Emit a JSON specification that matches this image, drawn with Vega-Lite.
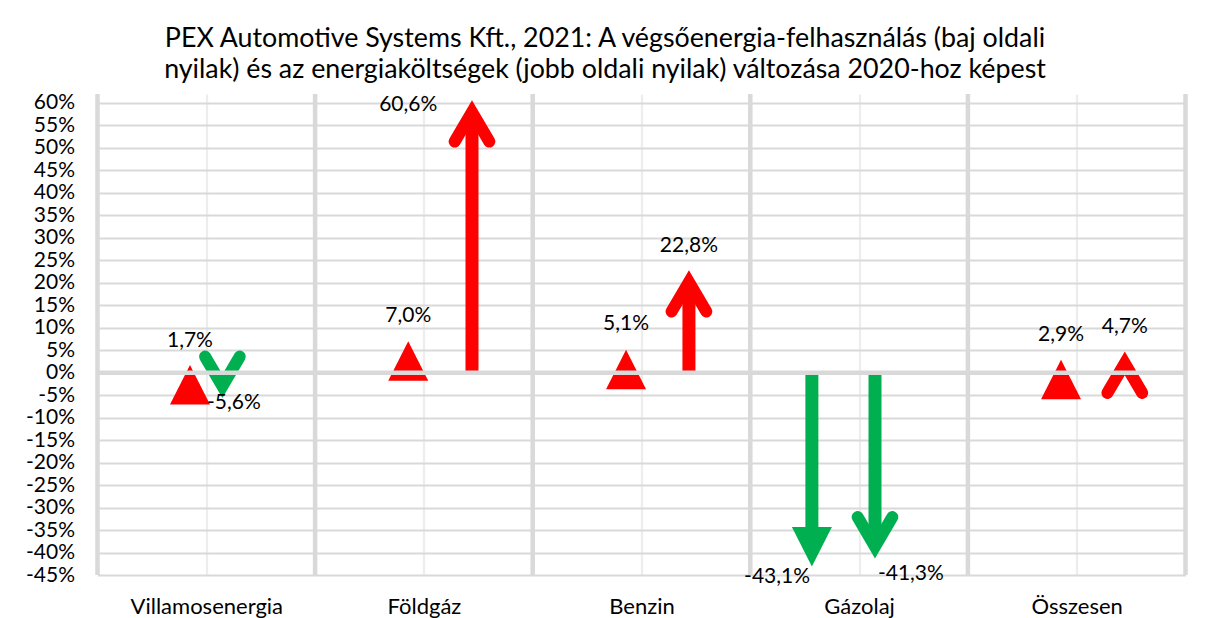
{
  "$schema": "https://vega.github.io/schema/vega-lite/v6.json",
  "width": 1088,
  "height": 481,
  "autosize": {"type": "none"},
  "padding": {"left": 97.5, "top": 94, "right": 24.5, "bottom": 43},
  "background": "white",
  "config": {"view": {"stroke": null}, "font": "Lato", "text": {"font": "Lato"}},
  "title": {
    "text": ["PEX Automotive Systems Kft., 2021: A végsőenergia-felhasználás (baj oldali", "nyilak) és az energiaköltségek (jobb oldali nyilak) változása 2020-hoz képest"],
    "fontSize": 26.8,
    "fontWeight": "normal",
    "font": "Lato",
    "color": "#000000",
    "anchor": "middle",
    "frame": "group",
    "dx": -36.5,
    "offset": 4,
    "lineHeight": 31
  },
  "datasets": {
    "arrows": [
      {"cat": "Villamosenergia", "side": "left", "x": 0.425, "v": 1.7, "lx": 0.425, "ly": 7.0},
      {"cat": "Villamosenergia", "side": "right", "x": 0.574, "v": -5.6, "lx": 0.627, "ly": -6.8},
      {"cat": "Földgáz", "side": "left", "x": 1.428, "v": 7.0, "lx": 1.428, "ly": 12.6},
      {"cat": "Földgáz", "side": "right", "x": 1.721, "v": 60.6, "lx": 1.428, "ly": 59.5},
      {"cat": "Benzin", "side": "left", "x": 2.429, "v": 5.1, "lx": 2.429, "ly": 10.8},
      {"cat": "Benzin", "side": "right", "x": 2.718, "v": 22.8, "lx": 2.718, "ly": 28.2},
      {"cat": "Gázolaj", "side": "left", "x": 3.283, "v": -43.1, "lx": 3.123, "ly": -45.45},
      {"cat": "Gázolaj", "side": "right", "x": 3.573, "v": -41.3, "lx": 3.738, "ly": -44.8},
      {"cat": "Összesen", "side": "left", "x": 4.428, "v": 2.9, "lx": 4.428, "ly": 8.35},
      {"cat": "Összesen", "side": "right", "x": 4.721, "v": 4.7, "lx": 4.721, "ly": 10.1}
    ],
    "seps": [{"x": 0, "v": 0}, {"x": 1, "v": 0}, {"x": 2, "v": 0}, {"x": 3, "v": 0}, {"x": 4, "v": 0}, {"x": 5, "v": 0}]
  },
  "layer": [
    {
      "data": {"name": "seps"},
      "mark": {"type": "rule", "color": "#D9D9D9", "strokeWidth": 4.5},
      "encoding": {
        "x": {
          "field": "x", "type": "quantitative",
          "scale": {"domain": [0, 5], "nice": false, "zero": false},
          "axis": {
            "values": [0.5, 1.5, 2.5, 3.5, 4.5], "tickCount": 30,
            "labelExpr": "['Villamosenergia','Földgáz','Benzin','Gázolaj','Összesen'][floor(datum.value)]",
            "grid": true, "gridColor": "#EDEDED", "gridWidth": 2.3,
            "domain": false, "ticks": false, "labelOverlap": false,
            "labelFont": "Lato", "labelFontSize": 22, "labelColor": "#000000",
            "labelPadding": 21, "title": null
          }
        }
      }
    },
    {
      "data": {"name": "arrows"},
      "transform": [{"filter": "datum.side == 'left'"}],
      "mark": {"type": "point", "filled": true, "opacity": 1, "size": 1600, "strokeWidth": 0},
      "encoding": {
        "x": {
          "field": "x", "type": "quantitative",
          "scale": {"domain": [0, 5], "nice": false, "zero": false},
          "axis": {
            "values": [0.5, 1.5, 2.5, 3.5, 4.5], "tickCount": 30,
            "labelExpr": "['Villamosenergia','Földgáz','Benzin','Gázolaj','Összesen'][floor(datum.value)]",
            "grid": true, "gridColor": "#EDEDED", "gridWidth": 2.3,
            "domain": false, "ticks": false, "labelOverlap": false,
            "labelFont": "Lato", "labelFontSize": 22, "labelColor": "#000000",
            "labelPadding": 21, "title": null
          }
        },
        "y": {
          "field": "v", "type": "quantitative",
          "scale": {"domain": [-45, 62], "nice": false, "zero": false},
          "axis": {
            "values": [-45, -40, -35, -30, -25, -20, -15, -10, -5, 0, 5, 10, 15, 20, 25, 30, 35, 40, 45, 50, 55, 60],
            "tickCount": 40,
            "labelExpr": "datum.value + '%'",
            "grid": true, "gridColor": "#D9D9D9", "gridWidth": 2,
            "domain": false, "ticks": false, "labelOverlap": false,
            "labelFont": "Lato", "labelFontSize": 21, "labelColor": "#000000",
            "labelPadding": 23, "title": null
          }
        },
        "shape": {"condition": {"test": "datum.v > 0", "value": "M0,0L1,1.975L-1,1.975Z"}, "value": "M0,0L1,-1.975L-1,-1.975Z"},
        "color": {"condition": {"test": "datum.v > 0", "value": "#FF0000"}, "value": "#00B050"}
      }
    },
    {
      "data": {"name": "arrows"},
      "transform": [{"filter": "datum.side == 'left' && datum.v < -9"}],
      "mark": {"type": "rule", "strokeWidth": 13, "strokeCap": "butt", "yOffset": -20},
      "encoding": {
        "x": {"field": "x", "type": "quantitative"},
        "y": {"field": "v", "type": "quantitative"},
        "y2": {"datum": 0},
        "color": {"value": "#00B050"}
      }
    },
    {
      "data": {"name": "arrows"},
      "transform": [{"filter": "datum.side == 'right' && datum.v > 0"}],
      "mark": {"type": "rule", "strokeWidth": 13, "strokeCap": "butt", "yOffset": 12},
      "encoding": {
        "x": {"field": "x", "type": "quantitative"},
        "y": {"field": "v", "type": "quantitative"},
        "y2": {"datum": 0},
        "color": {"value": "#FF0000"}
      }
    },
    {
      "data": {"name": "arrows"},
      "transform": [{"filter": "datum.side == 'right' && datum.v < 0"}],
      "mark": {"type": "rule", "strokeWidth": 13, "strokeCap": "butt", "yOffset": -12},
      "encoding": {
        "x": {"field": "x", "type": "quantitative"},
        "y": {"field": "v", "type": "quantitative"},
        "y2": {"datum": 0},
        "color": {"value": "#00B050"}
      }
    },
    {
      "data": {"name": "arrows"},
      "transform": [{"filter": "datum.side == 'right'"}],
      "mark": {"type": "point", "filled": false, "opacity": 1, "size": 1600, "strokeWidth": 12, "strokeCap": "round", "strokeJoin": "miter"},
      "encoding": {
        "x": {"field": "x", "type": "quantitative"},
        "y": {"field": "v", "type": "quantitative"},
        "shape": {"condition": {"test": "datum.v > 0", "value": "M-0.8675,2.065L0,0.59L0.8675,2.065"}, "value": "M-0.8675,-2.065L0,-0.59L0.8675,-2.065"},
        "color": {"condition": {"test": "datum.v > 0", "value": "#FF0000"}, "value": "#00B050"}
      }
    },
    {
      "data": {"name": "seps"},
      "transform": [{"filter": "datum.x == 0"}],
      "mark": {"type": "rule", "color": "#D9D9D9", "strokeWidth": 4.5},
      "encoding": {
        "x": {"field": "x", "type": "quantitative"},
        "x2": {"datum": 5},
        "y": {"field": "v", "type": "quantitative"}
      }
    },
    {
      "data": {"name": "arrows"},
      "transform": [{"calculate": "replace(replace(format(datum.v, '.1f'), '.', ','), '−', '-') + '%'", "as": "lab"}],
      "mark": {"type": "text", "font": "Lato", "fontSize": 21, "color": "#000000", "align": "center", "baseline": "middle"},
      "encoding": {
        "x": {"field": "lx", "type": "quantitative"},
        "y": {"field": "ly", "type": "quantitative"},
        "text": {"field": "lab"}
      }
    }
  ]
}
